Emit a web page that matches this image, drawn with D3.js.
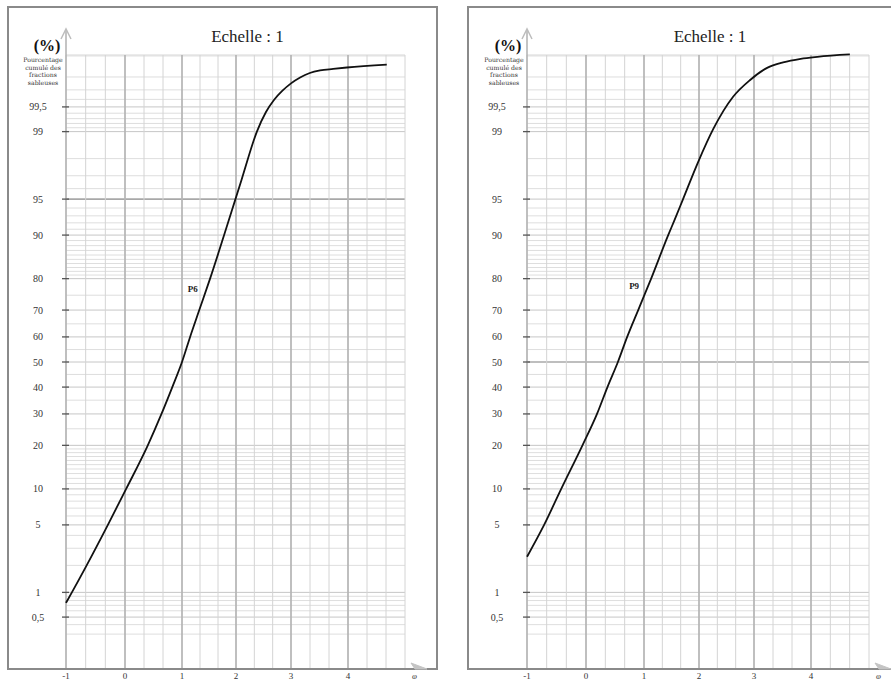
<!DOCTYPE html>
<html>
<head>
<meta charset="utf-8">
<script src="https://cdn.jsdelivr.net/npm/d3@7"></script>
<style>
	body { margin: 0; background: #fff; }
	svg { display: block; font-family: 'Liberation Serif', 'Times New Roman', serif; }
</style>
</head>
<body>
<svg id="chart" width="891" height="679"></svg>
<script>
// x axis ticks (phi units) and probability labels
const xTicks = [-1, 0, 1, 2, 3, 4]
const yLabels = [0.5, 1, 5, 10, 20, 30, 40, 50, 60, 70, 80, 90, 95, 99, 99.5]
const yLabelText = ['0,5', '1', '5', '10', '20', '30', '40', '50', '60', '70', '80', '90', '95', '99', '99,5']
const yMinor = [0.3, 0.4, 0.6, 0.7, 0.8, 0.9, 2, 3, 4, 6, 7, 8, 9,
	11, 12, 13, 14, 15, 16, 17, 18, 19, 25, 35, 45, 55, 65, 75,
	81, 82, 83, 84, 85, 86, 87, 88, 89, 91, 92, 93, 94, 96, 97, 98,
	99.1, 99.2, 99.3, 99.4, 99.6, 99.7, 99.8, 99.9]

// cumulative curves
const p6X = [-1, -0.9, -0.65, -0.29, 0.02, 0.4, 0.64, 0.83, 1.0, 1.15, 1.32, 1.52, 1.78, 1.99, 2.1, 2.38, 2.545, 2.69, 2.84, 3.0, 3.16, 3.33, 3.51, 3.74, 3.98, 4.68]
const p6Y = [0.75, 1, 2, 5, 10, 20, 30, 40, 50, 60, 70, 80, 90, 95, 96.7, 99, 99.42, 99.593, 99.69, 99.755, 99.797, 99.824, 99.838, 99.846, 99.853, 99.866]
const p9X = [-1, -0.71, -0.42, -0.06, 0.19, 0.37, 0.55, 0.71, 0.9, 1.13, 1.44, 1.56, 1.71, 1.98, 2.26, 2.62, 2.93, 3.23, 3.51, 3.82, 4.11, 4.67]
const p9Y = [2.46, 5, 10, 20, 30, 40, 50, 60, 70, 80, 90, 92.5, 95, 97.8, 99.07, 99.63, 99.78, 99.851, 99.876, 99.89, 99.897, 99.905]

const svg = d3.select('#chart')
const TOP = 55
const BOTTOM = 669

// the scanned paper is slightly uneven, so each panel keeps its own tick pixels
const panels = [
	{ frame: 8, frameW: 429, px: [66, 125, 182, 236, 291, 348, 405], name: 'P6', xs: p6X, ys: p6Y, label: [1.2, 77], dark: 95, lab: 28 },
	{ frame: 468, frameW: 440, px: [527, 586, 644, 699, 754, 811, 869], name: 'P9', xs: p9X, ys: p9Y, label: [0.83, 78], dark: 50, lab: 30 }
]

// inverse normal cdf (Acklam) for the probability scale
function probit(p) {
	const a = [-39.69683028665376, 220.9460984245205, -275.9285104469687, 138.357751867269, -30.66479806614716, 2.506628277459239]
	const b = [-54.47609879822406, 161.5858368580409, -155.6989798598866, 66.80131188771972, -13.28068155288572]
	const c = [-0.007784894002430293, -0.3223964580411365, -2.400758277161838, -2.549732539343734, 4.374664141464968, 2.938163982698783]
	const d = [0.007784695709041462, 0.3224671290700398, 2.445134137142996, 3.754408661907416]
	const pl = 0.02425
	let q, r
	if (p < pl) {
		q = Math.sqrt(-2 * Math.log(p))
		return (((((c[0] * q + c[1]) * q + c[2]) * q + c[3]) * q + c[4]) * q + c[5]) / ((((d[0] * q + d[1]) * q + d[2]) * q + d[3]) * q + 1)
	}
	if (p <= 1 - pl) {
		q = p - 0.5
		r = q * q
		return (((((a[0] * r + a[1]) * r + a[2]) * r + a[3]) * r + a[4]) * r + a[5]) * q / (((((b[0] * r + b[1]) * r + b[2]) * r + b[3]) * r + b[4]) * r + 1)
	}
	q = Math.sqrt(-2 * Math.log(1 - p))
	return -(((((c[0] * q + c[1]) * q + c[2]) * q + c[3]) * q + c[4]) * q + c[5]) / ((((d[0] * q + d[1]) * q + d[2]) * q + d[3]) * q + 1)
}

const zScale = d3.scaleLinear().domain([-3.1, 3.1]).range([BOTTOM, TOP])
const yPos = p => zScale(probit(p / 100))

function drawPanel(cfg) {
	const g = svg.append('g')
	const x = d3.scaleLinear().domain([-1, 0, 1, 2, 3, 4, 5]).range(cfg.px)
	const left = cfg.px[0]
	const right = cfg.px[cfg.px.length - 1]
	const xMinor = d3.range(0, 19).map(i => -1 + i / 3)

	// frame
	g.append('rect')
		.attr('x', cfg.frame).attr('y', 7)
		.attr('width', cfg.frameW).attr('height', BOTTOM - 7)
		.attr('fill', 'none').attr('stroke', '#8a8a8a').attr('stroke-width', 2)

	// grid
	g.append('line')
		.attr('x1', left).attr('x2', right).attr('y1', TOP).attr('y2', TOP)
		.attr('stroke', '#d6d6d6')

	g.selectAll('.hminor').data(yMinor).enter().append('line')
		.attr('x1', left).attr('x2', right)
		.attr('y1', d => yPos(d)).attr('y2', d => yPos(d))
		.attr('stroke', '#dedede').attr('stroke-width', 1)

	g.selectAll('.hmajor').data(yLabels).enter().append('line')
		.attr('x1', left).attr('x2', right)
		.attr('y1', d => yPos(d)).attr('y2', d => yPos(d))
		.attr('stroke', d => d === cfg.dark ? '#a8a8a8' : '#c6c6c6')
		.attr('stroke-width', d => d === cfg.dark ? 1.6 : 1)

	g.selectAll('.vminor').data(xMinor).enter().append('line')
		.attr('x1', d => x(d)).attr('x2', d => x(d))
		.attr('y1', TOP).attr('y2', BOTTOM)
		.attr('stroke', '#d4d4d4').attr('stroke-width', 1)

	g.selectAll('.vmajor').data(xTicks.slice(1)).enter().append('line')
		.attr('x1', d => x(d)).attr('x2', d => x(d))
		.attr('y1', TOP).attr('y2', BOTTOM)
		.attr('stroke', '#b0b0b0').attr('stroke-width', 1.5)

	// y axis with arrow
	g.append('line')
		.attr('x1', left).attr('x2', left).attr('y1', 30).attr('y2', BOTTOM)
		.attr('stroke', '#b0b0b0').attr('stroke-width', 1.5)
	g.append('path')
		.attr('d', `M${left - 5},39L${left},29L${left + 5},39`)
		.attr('fill', 'none').attr('stroke', '#bdbdbd').attr('stroke-width', 1.5)

	g.selectAll('.ytick').data(yLabels).enter().append('line')
		.attr('x1', left - 4).attr('x2', left + 3)
		.attr('y1', d => yPos(d)).attr('y2', d => yPos(d))
		.attr('stroke', '#555').attr('stroke-width', 1.3)

	g.selectAll('.ylab').data(yLabels).enter().append('text')
		.attr('x', left - cfg.lab).attr('y', d => yPos(d))
		.attr('dy', '0.35em').attr('text-anchor', 'middle')
		.attr('font-size', 10).attr('fill', '#333')
		.text((d, i) => yLabelText[i])

	// x axis (frame bottom) with arrow
	const tip = right + 22
	g.append('line')
		.attr('x1', cfg.frame).attr('x2', tip).attr('y1', BOTTOM).attr('y2', BOTTOM)
		.attr('stroke', '#8a8a8a').attr('stroke-width', 2)
	g.append('path')
		.attr('d', `M${tip - 16},${BOTTOM - 6}L${tip},${BOTTOM}L${tip - 12},${BOTTOM}Z`)
		.attr('fill', '#c4c4c4').attr('stroke', '#c4c4c4')

	g.selectAll('.xlab').data(xTicks).enter().append('text')
		.attr('x', d => x(d)).attr('y', 678.5)
		.attr('text-anchor', 'middle').attr('font-size', 9).attr('fill', '#333')
		.text(d => d)

	g.append('text')
		.attr('x', right + 7).attr('y', 678.5)
		.attr('font-size', 9).attr('font-style', 'italic').attr('fill', '#444')
		.text('φ')

	// titles
	g.append('text')
		.attr('x', (left + right) / 2 + 12).attr('y', 42)
		.attr('text-anchor', 'middle').attr('font-size', 17).attr('fill', '#222')
		.text('Echelle : 1')

	g.append('text')
		.attr('x', left - 19).attr('y', 51)
		.attr('text-anchor', 'middle').attr('font-size', 16).attr('font-weight', 'bold').attr('fill', '#111')
		.text('(%)')

	const sub = ['Pourcentage', 'cumulé des', 'fractions', 'sableuses']
	g.selectAll('.sub').data(sub).enter().append('text')
		.attr('x', left - 23).attr('y', (d, i) => 62 + i * 7.5)
		.attr('text-anchor', 'middle')
		.style('font-family', "'DejaVu Serif', serif")
		.attr('font-size', 6.2).attr('fill', '#333')
		.text(d => d)

	// curve
	const pts = cfg.xs.map((v, i) => [v, cfg.ys[i]])
	const line = d3.line()
		.x(d => x(d[0]))
		.y(d => yPos(d[1]))
		.curve(d3.curveMonotoneX)

	g.append('path')
		.datum(pts)
		.attr('d', line)
		.attr('fill', 'none').attr('stroke', '#111').attr('stroke-width', 1.8)

	g.append('text')
		.attr('x', x(cfg.label[0])).attr('y', yPos(cfg.label[1]))
		.attr('dy', '0.35em').attr('text-anchor', 'middle')
		.attr('font-size', 9).attr('font-weight', 'bold').attr('fill', '#222')
		.text(cfg.name)
}

panels.forEach(drawPanel)
</script>
</body>
</html>
